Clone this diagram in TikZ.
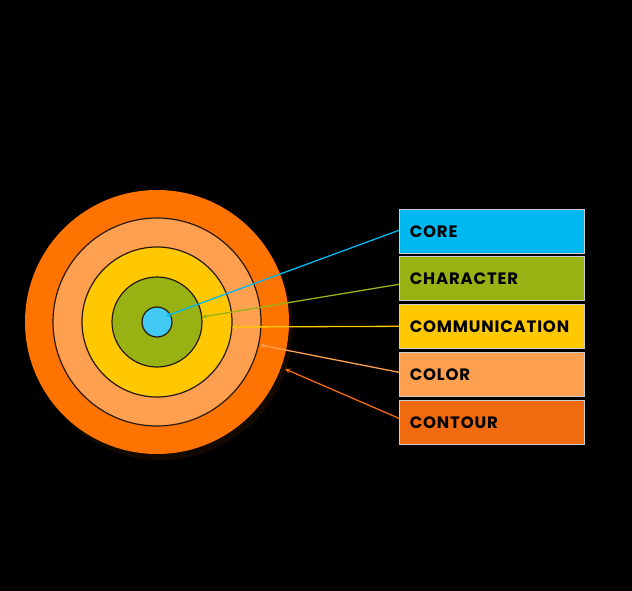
\documentclass[tikz,border=0pt]{standalone}
\usepackage{fontspec}
\setmainfont{Poppins}[LetterSpace=5]
\begin{document}
\begin{tikzpicture}[x=1pt,y=-1pt,
 ring/.style={draw=black!80!brown,line width=1.2pt},
 box/.style={minimum width=185pt,minimum height=44pt,anchor=north west,draw=white!60!gray,line width=0.6pt,inner sep=0pt,text width=176pt,align=left,font=\bfseries\fontsize{16.5}{18}\selectfont,execute at begin node=\hspace*{6pt}},
 lk/.style={line width=1.3pt,-stealth}]
\definecolor{cA}{HTML}{00B8F0}\definecolor{cB}{HTML}{98B214}\definecolor{cC}{HTML}{FFC800}\definecolor{cD}{HTML}{FFA050}\definecolor{cE}{HTML}{F06A10}
\fill[black] (0,0) rectangle (632,591);
\useasboundingbox (0,0) rectangle (632,591);
\fill[black!70!orange!40!black,opacity=0.6] (161,328) circle (132);
\node[circle,fill=orange!90!red,minimum size=264pt,inner sep=0pt] (o1) at (157,322) {};
\node[circle,fill=cD,ring,minimum size=208pt,inner sep=0pt] (o2) at (157,322) {};
\node[circle,fill=cC,ring,minimum size=150pt,inner sep=0pt] (o3) at (157,322) {};
\node[circle,fill=cB,ring,minimum size=90pt,inner sep=0pt] (o4) at (157,322) {};
\node[circle,fill=cA!75!white,ring,minimum size=30pt,inner sep=0pt] (o5) at (157,322) {};
\node[box,fill=cA] (b1) at (399,209) {CORE};
\node[box,fill=cB] (b2) at (399,256) {CHARACTER};
\node[box,fill=cC] (b3) at (399,304) {COMMUNICATION};
\node[box,fill=cD] (b4) at (399,352) {COLOR};
\node[box,fill=cE] (b5) at (399,400) {CONTOUR};
\coordinate (t1) at (166,316);
\coordinate (t2) at (202,317);
\coordinate (t3) at (232,327);
\coordinate (t4) at (260,345);
\coordinate (t5) at (285,369);
\draw[lk,cA] ([yshift=1pt]b1.west) -- (t1);
\draw[lk,cB] ([yshift=-6pt]b2.west) -- (t2);
\draw[lk,cC] (b3.west) -- (t3);
\draw[lk,cD] ([yshift=2pt]b4.west) -- (t4);
\draw[lk,cE] ([yshift=4pt]b5.west) -- (t5);
\end{tikzpicture}
\end{document}
